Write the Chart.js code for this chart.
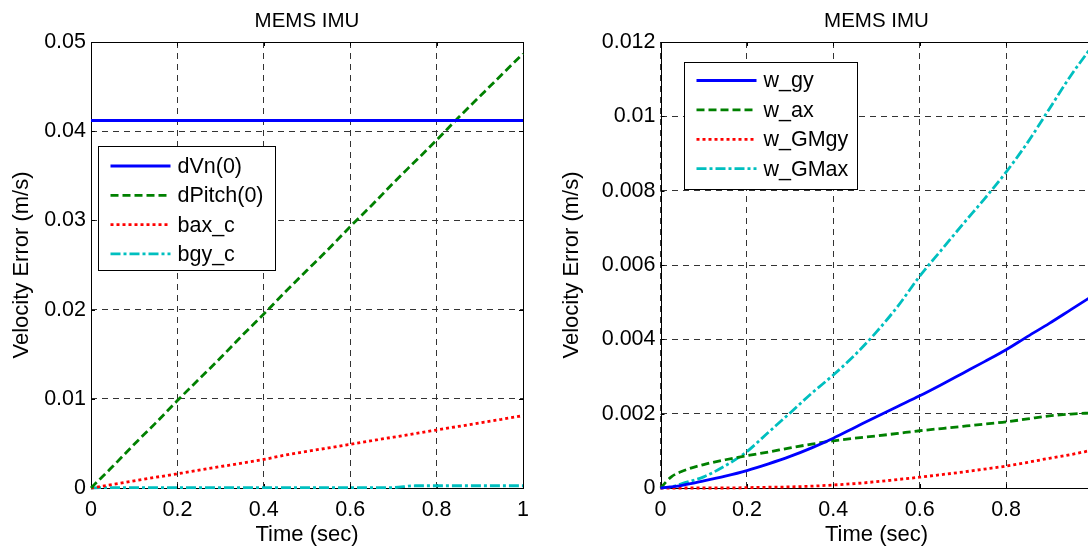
<!DOCTYPE html>
<html>
<head>
<meta charset="utf-8">
<script src="https://cdn.jsdelivr.net/npm/chart.js@4.4.0/dist/chart.umd.min.js"></script>
<style>
  html, body { margin: 0; padding: 0; background: #fff; overflow: hidden; }
  #wrap { position: relative; width: 1088px; height: 546px; overflow: hidden; background: #fff; }
  .box { position: absolute; top: 0; height: 546px; }
  #leftBox { left: 0; width: 544px; }
  #rightBox { left: 544px; width: 576px; }
</style>
</head>
<body>
<div id="wrap">
  <div class="box" id="leftBox"><canvas id="leftChart" width="544" height="546"></canvas></div>
  <div class="box" id="rightBox"><canvas id="rightChart" width="576" height="546"></canvas></div>
</div>
<script>
// shared time axis (sec)
let time = [0, 0.025, 0.05, 0.1, 0.15, 0.2, 0.25, 0.3, 0.35, 0.4, 0.45, 0.5, 0.55, 0.6, 0.65, 0.7, 0.75, 0.8, 0.85, 0.9, 0.95, 1.0];

// left plot - velocity error from initial errors / biases (m/s)
let dVn0 = [0.0412, 0.0412, 0.0412, 0.0412, 0.0412, 0.0412, 0.0412, 0.0412, 0.0412, 0.0412, 0.0412, 0.0412, 0.0412, 0.0412, 0.0412, 0.0412, 0.0412, 0.0412, 0.0412, 0.0412, 0.0412, 0.0412];
let dPitch0 = [0, 0.0012, 0.0024, 0.0049, 0.0073, 0.0098, 0.0122, 0.0146, 0.0171, 0.0195, 0.0220, 0.0244, 0.0268, 0.0293, 0.0317, 0.0342, 0.0366, 0.0390, 0.0415, 0.0439, 0.0463, 0.0487];
let baxC = [0, 0.0002, 0.0004, 0.0008, 0.0012, 0.0016, 0.0020, 0.0024, 0.0028, 0.0032, 0.0037, 0.0041, 0.0045, 0.0049, 0.0053, 0.0057, 0.0061, 0.0065, 0.0069, 0.0073, 0.0077, 0.0081];
let bgyC = [0, 0.00004, 0.00004, 0.00004, 0.00004, 0.00004, 0.00004, 0.00004, 0.00004, 0.00004, 0.00004, 0.00004, 0.00004, 0.00004, 0.00004, 0.00005, 0.00025, 0.00025, 0.00025, 0.00025, 0.00025, 0.00025];

// right plot - velocity error from noise terms (m/s)
let wGy = [0, 0.00003, 0.00007, 0.00019, 0.00032, 0.00047, 0.00065, 0.00085, 0.00108, 0.00134, 0.00163, 0.00192, 0.0022, 0.00248, 0.00278, 0.00309, 0.0034, 0.00372, 0.00408, 0.00443, 0.0048, 0.00517];
let wAx = [0, 0.0003, 0.00045, 0.00063, 0.00076, 0.00087, 0.00097, 0.00108, 0.00118, 0.00127, 0.00134, 0.0014, 0.00147, 0.00154, 0.0016, 0.00166, 0.00172, 0.00178, 0.00186, 0.00194, 0.00199, 0.00202];
let wGMgy = [0, 0, 0, 0, 0, 0.00001, 0.00002, 0.00003, 0.00005, 0.00008, 0.00012, 0.00017, 0.00023, 0.00029, 0.00036, 0.00043, 0.00051, 0.00059, 0.00069, 0.0008, 0.0009, 0.00102];
let wGMax = [0, 0.00003, 0.00012, 0.0003, 0.0006, 0.00098, 0.0015, 0.00202, 0.00255, 0.00304, 0.00358, 0.0042, 0.0049, 0.0057, 0.0064, 0.0071, 0.00778, 0.0085, 0.0093, 0.0102, 0.0111, 0.0119];

// ticks
let xTicks = [0, 0.2, 0.4, 0.6, 0.8, 1];
let xTickLabels = ["0", "0.2", "0.4", "0.6", "0.8", "1"];
let leftYTicks = [0, 0.01, 0.02, 0.03, 0.04, 0.05];
let leftYTickLabels = ["0", "0.01", "0.02", "0.03", "0.04", "0.05"];
let rightYTicks = [0, 0.002, 0.004, 0.006, 0.008, 0.01, 0.012];
let rightYTickLabels = ["0", "0.002", "0.004", "0.006", "0.008", "0.01", "0.012"];

const FONT = "'Liberation Sans', Arial, Helvetica, sans-serif";

function points(ys) {
  return time.map((t, i) => ({ x: t, y: ys[i] }));
}

function line(label, ys, color, dash) {
  return {
    label: label,
    data: points(ys),
    borderColor: color,
    backgroundColor: color,
    borderWidth: 2.8,
    borderDash: dash,
    pointRadius: 0,
    fill: false,
    clip: 3,
    cubicInterpolationMode: "monotone",
  };
}

// black box round the plot area, with small inward ticks like matlab
const framePlugin = {
  id: "frame",
  beforeDatasetsDraw(chart) {
    const { ctx, chartArea: a, scales } = chart;
    ctx.save();
    ctx.strokeStyle = "#000";
    ctx.lineWidth = 1;
    ctx.setLineDash([]);
    ctx.beginPath();
    scales.x.ticks.forEach((t) => {
      let px = Math.round(scales.x.getPixelForValue(t.value)) + 0.5;
      ctx.moveTo(px, a.bottom);
      ctx.lineTo(px, a.bottom - 4);
      ctx.moveTo(px, a.top);
      ctx.lineTo(px, a.top + 4);
    });
    scales.y.ticks.forEach((t) => {
      let py = Math.round(scales.y.getPixelForValue(t.value)) + 0.5;
      ctx.moveTo(a.left, py);
      ctx.lineTo(a.left + 4, py);
      ctx.moveTo(a.right, py);
      ctx.lineTo(a.right - 4, py);
    });
    ctx.stroke();
    ctx.strokeRect(Math.round(a.left) + 0.5, Math.round(a.top) + 0.5, Math.round(a.right - a.left), Math.round(a.bottom - a.top));
    ctx.restore();
  },
};

// boxed legend inside the plot area
const boxLegendPlugin = {
  id: "boxLegend",
  afterDraw(chart, args, opts) {
    const { ctx, chartArea: a } = chart;
    const bx = Math.round(a.left + opts.x) + 0.5;
    const by = Math.round(a.top + opts.y) + 0.5;
    ctx.save();
    ctx.fillStyle = "#fff";
    ctx.fillRect(bx, by, opts.w, opts.h);
    ctx.strokeStyle = "#000";
    ctx.lineWidth = 1;
    ctx.setLineDash([]);
    ctx.strokeRect(bx, by, opts.w, opts.h);
    ctx.font = "21.5px " + FONT;
    ctx.textBaseline = "middle";
    ctx.textAlign = "left";
    chart.data.datasets.forEach((ds, i) => {
      const ry = by + opts.first + i * opts.gap;
      ctx.strokeStyle = ds.borderColor;
      ctx.lineWidth = ds.borderWidth;
      ctx.setLineDash(ds.borderDash || []);
      ctx.beginPath();
      ctx.moveTo(bx + 12, ry);
      ctx.lineTo(bx + 72, ry);
      ctx.stroke();
      ctx.fillStyle = "#000";
      ctx.fillText(ds.label, bx + 79, ry + 1);
    });
    ctx.restore();
  },
};

function options(cfg) {
  return {
    responsive: false,
    animation: false,
    devicePixelRatio: 1,
    events: [],
    layout: { padding: { left: 0, right: cfg.padRight, top: 0, bottom: 0 } },
    plugins: {
      legend: { display: false },
      tooltip: { enabled: false },
      title: {
        display: true,
        text: "MEMS IMU",
        fullSize: false,
        color: "#000",
        font: { family: FONT, size: 20.5, weight: "normal", lineHeight: 1 },
        padding: { top: 11, bottom: 10.5 },
      },
      boxLegend: cfg.legend,
    },
    scales: {
      x: {
        type: "linear",
        min: 0,
        max: 1,
        afterBuildTicks: (axis) => { axis.ticks = xTicks.map((v) => ({ value: v })); },
        afterFit: (axis) => { axis.height = 58; },
        ticks: {
          color: "#000",
          padding: 9,
          maxRotation: 0,
          font: { family: FONT, size: 21.5 },
          callback: (v, i) => xTickLabels[i],
        },
        grid: { color: "#333", lineWidth: 1, drawTicks: false },
        border: { display: false, dash: [6, 5] },
        title: {
          display: true,
          text: "Time (sec)",
          color: "#000",
          font: { family: FONT, size: 22, lineHeight: 1 },
          padding: { top: 0, bottom: 0 },
        },
      },
      y: {
        type: "linear",
        min: 0,
        max: cfg.yMax,
        afterBuildTicks: (axis) => { axis.ticks = cfg.yTicks.map((v) => ({ value: v })); },
        afterFit: (axis) => { axis.width = cfg.yWidth; },
        ticks: {
          color: "#000",
          padding: 5,
          font: { family: FONT, size: 21.5 },
          callback: (v, i) => cfg.yTickLabels[i],
        },
        grid: { color: "#333", lineWidth: 1, drawTicks: false },
        border: { display: false, dash: [6, 5] },
        title: {
          display: true,
          text: "Velocity Error (m/s)",
          color: "#000",
          font: { family: FONT, size: 22, lineHeight: 1 },
          padding: { top: cfg.yTitlePad, bottom: 0 },
        },
      },
    },
  };
}

new Chart(document.getElementById("leftChart"), {
  type: "line",
  data: {
    datasets: [
      line("dVn(0)", dVn0, "#0000ff", []),
      line("dPitch(0)", dPitch0, "#008000", [8, 4]),
      line("bax_c", baxC, "#ff0000", [3, 3]),
      line("bgy_c", bgyC, "#00bfbf", [10, 3, 3, 3]),
    ],
  },
  options: options({
    padRight: 21,
    yWidth: 91,
    yMax: 0.05,
    yTicks: leftYTicks,
    yTickLabels: leftYTickLabels,
    yTitlePad: 11,
    legend: { x: 7, y: 104, w: 177, h: 124, first: 19.5, gap: 29.3 },
  }),
  plugins: [framePlugin, boxLegendPlugin],
});

new Chart(document.getElementById("rightChart"), {
  type: "line",
  data: {
    datasets: [
      line("w_gy", wGy, "#0000ff", []),
      line("w_ax", wAx, "#008000", [8, 4]),
      line("w_GMgy", wGMgy, "#ff0000", [3, 3]),
      line("w_GMax", wGMax, "#00bfbf", [10, 3, 3, 3]),
    ],
  },
  options: options({
    padRight: 27.5,
    yWidth: 116.5,
    yMax: 0.012,
    yTicks: rightYTicks,
    yTickLabels: rightYTickLabels,
    yTitlePad: 17,
    legend: { x: 23, y: 20, w: 173, h: 127, first: 18, gap: 29.4 },
  }),
  plugins: [framePlugin, boxLegendPlugin],
});
</script>
</body>
</html>
